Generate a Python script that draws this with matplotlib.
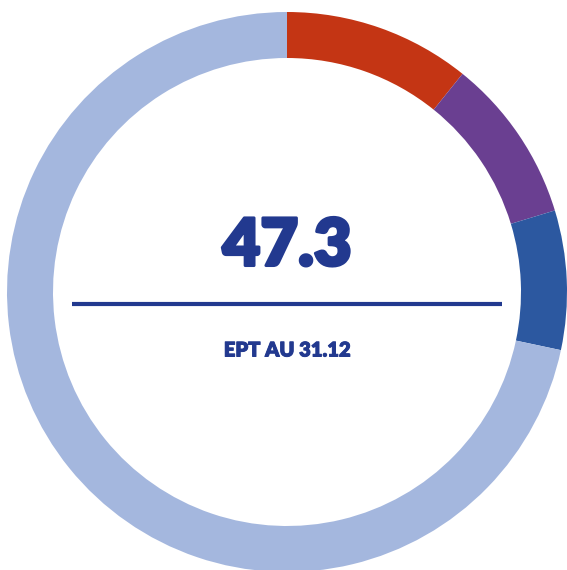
import matplotlib.pyplot as plt
import matplotlib.patheffects as pe

# EPT split at 31.12
labels = ['A', 'B', 'C', 'D']
values = [5.1, 4.5, 3.8, 33.9]
colors = ['#C43514', '#6A3F91', '#2C58A0', '#A4B7DE']
total_label = '47.3'
sub_label = 'EPT AU 31.12'
navy = '#22398F'

W, H = 567, 570
fig = plt.figure(figsize=(W / 100, H / 100), dpi=100)
ax = fig.add_axes([0, 0, 1, 1])

cx, cy = 287, H - 292
ax.pie(values, colors=colors, startangle=90, counterclock=False,
       radius=280, center=(cx, cy),
       wedgeprops=dict(width=46, linewidth=0))

ax.text(cx, H - 247, total_label, ha='center', va='center',
        fontsize=47, fontweight='heavy', family=['Lato', 'DejaVu Sans'], color=navy,
        path_effects=[pe.withStroke(linewidth=2.2, foreground=navy)])
ax.plot([72, 502], [H - 304, H - 304], color=navy, lw=3, solid_capstyle='butt')
ax.text(cx, H - 350, sub_label, ha='center', va='center',
        fontsize=14.5, fontweight='heavy', family=['Lato', 'DejaVu Sans'], color=navy,
        path_effects=[pe.withStroke(linewidth=0.7, foreground=navy)])

ax.set_xlim(0, W)
ax.set_ylim(0, H)
ax.set_aspect('equal')
ax.axis('off')

fig.savefig('out.png', dpi=100)
